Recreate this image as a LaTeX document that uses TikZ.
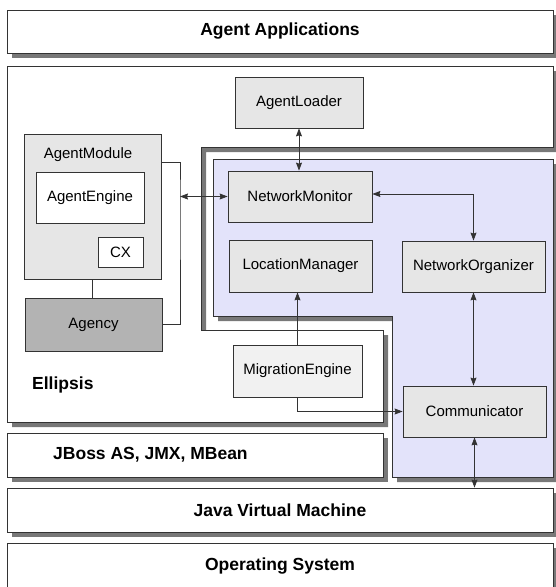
\documentclass[tikz,border=0pt]{standalone}
\usepackage{fontspec}
\setmainfont{Liberation Sans}
\usetikzlibrary{arrows.meta, positioning, shadows}
\usepackage{xcolor}
\definecolor{boxgray}{RGB}{230,230,230}
\definecolor{agencygray}{RGB}{179,179,179}
\definecolor{migrgray}{RGB}{241,241,241}
\definecolor{netblue}{RGB}{227,227,250}
\definecolor{shadowgray}{RGB}{120,120,120}
\definecolor{edgegray}{RGB}{51,51,51}

\begin{document}
\begin{tikzpicture}[x=1pt, y=-1pt,
    layer/.style={draw=edgegray, line width=0.8pt, fill=white,
                  general shadow={fill=shadowgray, shadow xshift=5pt, shadow yshift=-5pt}},
    layerbox/.style={layer, inner sep=0pt, font=\fontsize{17.5}{20}\selectfont\bfseries},
    netarea/.style={layer, fill=netblue},
    box/.style={draw=edgegray, line width=0.8pt, fill=boxgray, inner sep=0pt,
                align=center, font=\fontsize{15}{18}\selectfont},
    txt/.style={inner sep=0pt, font=\fontsize{15}{18}\selectfont},
    lbl/.style={inner sep=0pt, anchor=west, font=\fontsize{17.5}{20}\selectfont\bfseries},
    wire/.style={draw=edgegray, line width=0.8pt},
    arrow/.style={wire, -{Stealth[length=8pt, width=6pt, inset=1pt]}},
    biarrow/.style={wire, {Stealth[length=8pt, width=6pt, inset=1pt]}-{Stealth[length=8pt, width=6pt, inset=1pt]}},
]
\useasboundingbox (0,0) rectangle (555,587);

% ===== Agent Applications =====
\node[layerbox, minimum width=546pt, minimum height=43pt] (apps) at (280,31.5) {Agent Applications};

% ===== Ellipsis =====
\draw[layer] (7,66) -- (553,66) -- (553,147) -- (201,147) -- (201,330)
             -- (383,330) -- (383,422) -- (7,422) -- cycle;
\node[lbl] (ellipsis) at (32,385) {Ellipsis};

% ===== network area =====
\draw[netarea] (213,159) -- (553,159) -- (553,477) -- (392,477)
               -- (392,316) -- (213,316) -- cycle;

% ===== lower layers =====
\node[layerbox, minimum width=376pt, minimum height=44pt] (jboss) at (195,455) {};
\node[lbl] (jbosstext) at (53,455) {JBoss AS, JMX, MBean};
\node[layerbox, minimum width=546pt, minimum height=44pt] (jvm) at (280,510) {Java Virtual Machine};
\node[layerbox, minimum width=546pt, minimum height=46pt] (os) at (280,566) {Operating System};

% ===== agent side =====
\node[box, minimum width=137pt, minimum height=145pt] (module) at (92.5,206.5) {};
\node[txt] (moduletitle) at (88,155) {AgentModule};
\node[box, fill=white, minimum width=108pt, minimum height=51pt] (engine) at (90,197.5) {AgentEngine};
\node[box, fill=white, minimum width=45pt, minimum height=30pt] (cx) at (120.5,252) {CX};
\node[box, fill=agencygray, minimum width=137pt, minimum height=53pt] (agency) at (93.5,324.5) {Agency};

% ===== network side =====
\node[box, minimum width=128pt, minimum height=51pt] (loader)    at (299,102.5) {AgentLoader};
\node[box, minimum width=144pt, minimum height=51pt] (monitor)   at (300,196.5) {NetworkMonitor};
\node[box, minimum width=143pt, minimum height=52pt] (location)  at (300.5,266) {LocationManager};
\node[box, minimum width=143pt, minimum height=51pt] (organizer) at (473.5,266.5) {NetworkOrganizer};
\node[box, fill=migrgray, minimum width=129pt, minimum height=52pt] (migration) at (297.5,371) {MigrationEngine};
\node[box, minimum width=143pt, minimum height=51pt] (comm)      at (474.5,411.5) {Communicator};

% ===== connections =====
\coordinate (brk) at (180,196.5);
\draw[wire] (module.south) -- (module.south |- agency.north);
\draw[wire] ([yshift=-29pt]module.north east) -| (brk) |- (agency.east);
\draw[biarrow] (brk) -- (monitor.west);
\draw[biarrow] (loader.south) -- (loader.south |- monitor.north);
\draw[biarrow] ([yshift=2.5pt]monitor.east) -| (organizer.north);
\draw[biarrow] (organizer.south) -- (organizer.south |- comm.north);
\draw[arrow] (migration.north) -- (migration.north |- location.south);
\draw[arrow] (migration.south) |- (comm.west);
\draw[biarrow] (comm.south) -- (comm.south |- jvm.north);
\end{tikzpicture}
\end{document}
